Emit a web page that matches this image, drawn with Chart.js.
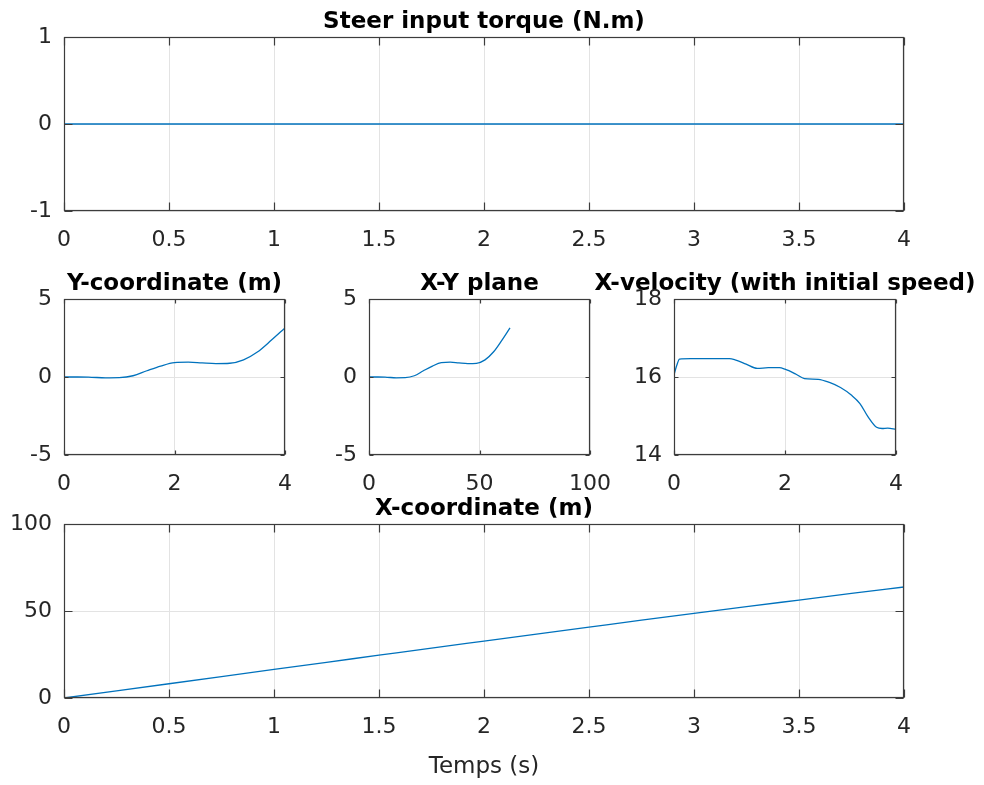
<!DOCTYPE html>
<html><head><meta charset="utf-8">
<script src="https://cdn.jsdelivr.net/npm/chart.js@4.4.1/dist/chart.umd.min.js"></script>
<style>
html,body{margin:0;padding:0;background:#fff;}
#wrap{position:relative;width:984px;height:785px;overflow:hidden;background:#fff;}
#wrap canvas{position:absolute;left:-100px;top:0;}
</style></head><body>
<div id="wrap">
<canvas id="cTorque" width="1184" height="785"></canvas>
<canvas id="cYcoord" width="1184" height="785"></canvas>
<canvas id="cXY" width="1184" height="785"></canvas>
<canvas id="cVel" width="1184" height="785"></canvas>
<canvas id="cXcoord" width="1184" height="785"></canvas>
</div>
<script>
// ---- data ----
const timeSamples = [0,0.25,0.5,0.75,1,1.25,1.5,1.75,2,2.25,2.5,2.75,3,3.25,3.5,3.75,4];
const steerTorque = [0,0,0,0,0,0,0,0,0,0,0,0,0,0,0,0,0];
const yCoordinate = [0,0,-0.02,-0.05,-0.04,0.08,0.4,0.7,0.92,0.95,0.9,0.86,0.88,1.1,1.6,2.35,3.15];
const xCoordinate = [0,4.1,8.2,12.3,16.4,20.5,24.6,28.7,32.7,36.7,40.7,44.7,48.6,52.5,56.3,60.1,63.8];
const velocityTime = [0,0.05,0.1,0.3,0.5,0.8,1.0,1.1,1.3,1.5,1.7,1.9,2.0,2.2,2.35,2.6,2.8,3.0,3.2,3.35,3.5,3.65,3.75,3.85,4.0];
const velocity = [16.05,16.3,16.46,16.47,16.47,16.47,16.47,16.44,16.33,16.22,16.24,16.24,16.2,16.07,15.96,15.94,15.86,15.73,15.53,15.32,14.97,14.71,14.68,14.69,14.66];

// tick values
const timeTicksFine = [0,0.5,1,1.5,2,2.5,3,3.5,4];
const timeTicksCoarse = [0,2,4];
const torqueTicks = [-1,0,1];
const yCoordTicks = [-5,0,5];
const xyPlaneXTicks = [0,50,100];
const velocityTicks = [14,16,18];
const xCoordTicks = [0,50,100];

// titles
const titles = {
  torque: 'Steer input torque (N.m)',
  ycoord: 'Y-coordinate (m)',
  xy: 'X-Y plane',
  vel: 'X-velocity (with initial speed)',
  xcoord: 'X-coordinate (m)',
  time: 'Temps (s)'
};

// ---- layout / style ----
const OFFX = 100, CW = 1184, CH = 785;
const LINE = '#0072BD';
const GRID = '#e3e3e3';
const AXC = '#262626';
const TITLE_FONT = {family:'DejaVu Sans', size:23, weight:'bold', lineHeight:1.2};
const TICK_FONT = {family:'DejaVu Sans', size:22, lineHeight:1.2};
const LABEL_FONT = {family:'DejaVu Sans', size:23, lineHeight:1.2};
const TITLE_PAD = 1;
const TH = 23*1.2 + TITLE_PAD;

function pts(xs, ys){ return xs.map((x,i)=>({x:x, y:ys[i]})); }
function fmt(v){ return String(Math.round(v*1000)/1000); }

const boxPlugin = {
  id:'matlabBox',
  afterDraw(chart, args, opts){
    const {ctx, chartArea:a, scales} = chart;
    const L = Math.round(a.left)+0.5, R = Math.round(a.right)-0.5;
    const T = Math.round(a.top)+0.5, B = Math.round(a.bottom)-0.5;
    const tl = opts.tickLen || 4;
    ctx.save();
    ctx.strokeStyle = '#3c3c3c';
    ctx.lineWidth = 1.2;
    ctx.strokeRect(L, T, R-L, B-T);
    ctx.beginPath();
    scales.x.ticks.forEach(t=>{
      const p = Math.round(scales.x.getPixelForValue(t.value))+0.5;
      ctx.moveTo(p, B); ctx.lineTo(p, B-tl);
      ctx.moveTo(p, T); ctx.lineTo(p, T+tl);
    });
    scales.y.ticks.forEach(t=>{
      const p = Math.round(scales.y.getPixelForValue(t.value))+0.5;
      ctx.moveTo(L, p); ctx.lineTo(L+tl, p);
      ctx.moveTo(R, p); ctx.lineTo(R-tl, p);
    });
    ctx.stroke();
    ctx.restore();
  }
};

function makeChart(id, area, o){
  const yw = o.yw, xh = o.xh;
  return new Chart(document.getElementById(id), {
    type:'line',
    data:{datasets:[{
      data:o.data, borderColor:LINE, borderWidth:1.3, pointRadius:0,
      fill:false, cubicInterpolationMode:'monotone'
    }]},
    options:{
      responsive:false, animation:false, devicePixelRatio:1,
      events:[],
      layout:{padding:{
        left: area.l + OFFX - yw,
        right: CW - OFFX - area.r - yw,
        top: area.t - TH,
        bottom: CH - area.b - xh
      }},
      plugins:{
        legend:{display:false},
        tooltip:{enabled:false},
        title:{display:true, text:o.title, font:TITLE_FONT, color:'#000',
               padding:{top:0,bottom:TITLE_PAD}, fullSize:true},
        matlabBox:{tickLen:o.tickLen}
      },
      scales:{
        x:{
          type:'linear', position:'bottom', min:o.xMin, max:o.xMax,
          afterBuildTicks:s=>{ s.ticks = o.xTicks.map(v=>({value:v})); },
          afterFit:s=>{ s.height = xh; },
          grid:{color:GRID, lineWidth:1, drawTicks:false},
          border:{display:false},
          ticks:{font:TICK_FONT, color:AXC, padding:16, maxRotation:0, autoSkip:false, callback:fmt},
          title: o.xTitle ? {display:true, text:o.xTitle, font:LABEL_FONT, color:AXC, padding:{top:0,bottom:0}} : {display:false}
        },
        y:{
          type:'linear', position:'left', min:o.yMin, max:o.yMax,
          afterBuildTicks:s=>{ s.ticks = o.yTicks.map(v=>({value:v})); },
          afterFit:s=>{ s.width = yw; },
          grid:{color:GRID, lineWidth:1, drawTicks:false},
          border:{display:false},
          ticks:{font:TICK_FONT, color:AXC, padding:12, autoSkip:false, callback:fmt}
        },
        yRight:{
          type:'linear', position:'right', display:true,
          afterFit:s=>{ s.width = yw; },
          grid:{display:false}, border:{display:false},
          ticks:{display:false}
        }
      }
    },
    plugins:[boxPlugin]
  });
}

makeChart('cTorque', {l:64, r:904, t:37, b:211}, {
  yw:60, xh:50, tickLen:8, title:titles.torque,
  data:pts(timeSamples, steerTorque),
  xMin:0, xMax:4, xTicks:timeTicksFine,
  yMin:-1, yMax:1, yTicks:torqueTicks
});
makeChart('cYcoord', {l:64, r:285, t:299, b:455}, {
  yw:90, xh:50, tickLen:4, title:titles.ycoord,
  data:pts(timeSamples, yCoordinate),
  xMin:0, xMax:4, xTicks:timeTicksCoarse,
  yMin:-5, yMax:5, yTicks:yCoordTicks
});
makeChart('cXY', {l:369, r:590, t:299, b:455}, {
  yw:90, xh:50, tickLen:4, title:titles.xy,
  data:pts(xCoordinate, yCoordinate),
  xMin:0, xMax:100, xTicks:xyPlaneXTicks,
  yMin:-5, yMax:5, yTicks:yCoordTicks
});
makeChart('cVel', {l:674, r:896, t:299, b:455}, {
  yw:90, xh:50, tickLen:4, title:titles.vel,
  data:pts(velocityTime, velocity),
  xMin:0, xMax:4, xTicks:timeTicksCoarse,
  yMin:14, yMax:18, yTicks:velocityTicks
});
makeChart('cXcoord', {l:64, r:904, t:524, b:698}, {
  yw:60, xh:83, tickLen:8, title:titles.xcoord, xTitle:titles.time,
  data:pts(timeSamples, xCoordinate),
  xMin:0, xMax:4, xTicks:timeTicksFine,
  yMin:0, yMax:100, yTicks:xCoordTicks
});
</script>
</body></html>
